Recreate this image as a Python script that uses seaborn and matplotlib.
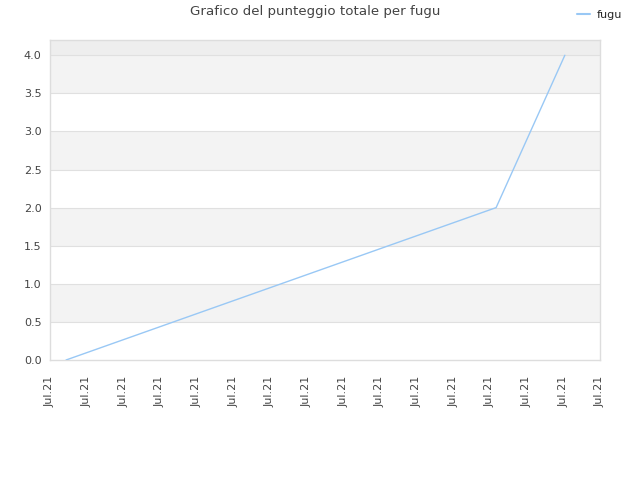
import pandas as pd
import matplotlib
matplotlib.use('Agg')
import matplotlib.pyplot as plt
import matplotlib.dates as mdates
import seaborn as sns

# total score over time
dates = ['2021-07-01 21:00', '2021-07-25 08:00', '2021-07-29 02:00']
scores = [0.0, 2.0, 4.0]
player = 'fugu'

sns.set_style('white')
plt.rcParams['font.family'] = ['DejaVu Sans']


def main() -> None:
    df = pd.DataFrame({'date': pd.to_datetime(dates), 'score': scores, 'name': player})

    fig = plt.figure(figsize=(6.4, 4.8), dpi=100)
    ax = fig.add_axes([50 / 640, 120 / 480, 550 / 640, 320 / 480])

    # alternating bands
    ax.axhspan(4.0, 4.2, color='#eeeeee', zorder=0, lw=0)
    for lo in [0.5, 1.5, 2.5, 3.5]:
        ax.axhspan(lo, lo + 0.5, color='#f3f3f3', zorder=0, lw=0)
    for y in [0.5, 1.0, 1.5, 2.0, 2.5, 3.0, 3.5, 4.0]:
        ax.axhline(y, color='#e0e0e0', lw=0.8, zorder=1)

    sns.lineplot(data=df, x='date', y='score', hue='name', palette=['#99c8f5'],
                 linewidth=1, ax=ax, legend=False, zorder=3)

    ax.set_ylim(0, 4.2)
    ax.set_yticks([0, 0.5, 1, 1.5, 2, 2.5, 3, 3.5, 4])
    ax.set_yticklabels(['0.0', '0.5', '1.0', '1.5', '2.0', '2.5', '3.0', '3.5', '4.0'])
    ax.set_xlim(pd.Timestamp('2021-07-01'), pd.Timestamp('2021-07-31'))
    ax.xaxis.set_major_locator(mdates.DayLocator(bymonthday=range(1, 32, 2)))
    ax.xaxis.set_major_formatter(mdates.DateFormatter('%b.%y'))
    ax.tick_params(axis='x', rotation=90, labelsize=8, colors='#444444', length=0, pad=11)
    ax.tick_params(axis='y', labelsize=8, colors='#444444', length=0, pad=6)
    ax.set_xlabel('')
    ax.set_ylabel('')
    for s in ax.spines.values():
        s.set_color('#dddddd')
        s.set_linewidth(1)

    fig.suptitle('Grafico del punteggio totale per fugu', x=0.493, y=0.99,
                 fontsize=9.6, color='#444444')
    handle = plt.Line2D([], [], color='#99c8f5', lw=1.5)
    fig.legend([handle], [player], loc='upper right', bbox_to_anchor=(0.988, 1.0),
               frameon=False, fontsize=8, handlelength=1.2, handletextpad=0.6)

    fig.savefig('out.png', dpi=100)


main()
